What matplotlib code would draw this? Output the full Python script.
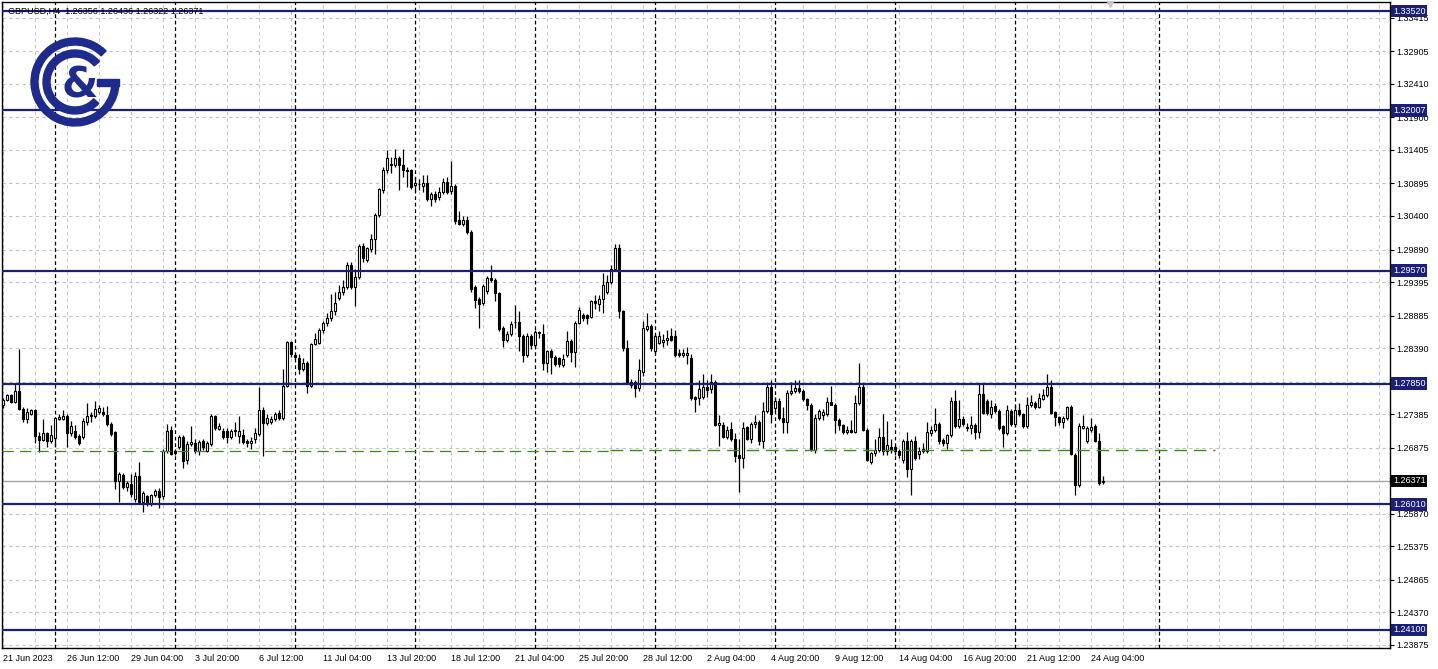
import numpy as np
import matplotlib.pyplot as plt
from matplotlib.patches import Wedge, Rectangle

# GBPUSD H4 candles, 21 Jun 2023 20:00 .. 24 Aug 2023
opens = [
    1.2753, 1.2760, 1.2767, 1.2757, 1.2774, 1.2747, 1.2731, 1.2739, 1.2745, 1.2705,
    1.2699, 1.2709, 1.2698, 1.2702, 1.2731, 1.2731, 1.2736, 1.2709, 1.2713, 1.2705,
    1.2703, 1.2727, 1.2736, 1.2736, 1.2741, 1.2742, 1.2737, 1.2723, 1.2711, 1.2637,
    1.2646, 1.2627, 1.2632, 1.2609, 1.2645, 1.2604, 1.2614, 1.2601, 1.2615, 1.2622,
    1.2614, 1.2683, 1.2714, 1.2683, 1.2688, 1.2704, 1.2669, 1.2693, 1.2695, 1.2683,
    1.2698, 1.2683, 1.2693, 1.2735, 1.2716, 1.2713, 1.2713, 1.2703, 1.2713, 1.2705,
    1.2706, 1.2698, 1.2694, 1.2701, 1.2708, 1.2745, 1.2725, 1.2727, 1.2731, 1.2740,
    1.2733, 1.2782, 1.2848, 1.2828, 1.2824, 1.2807, 1.2816, 1.2782, 1.2845, 1.2847,
    1.2867, 1.2877, 1.2885, 1.2895, 1.2915, 1.2924, 1.2932, 1.2965, 1.2932, 1.2947,
    1.2994, 1.2973, 1.2990, 1.3005, 1.3042, 1.3080, 1.3110, 1.3118, 1.3117, 1.3129,
    1.3118, 1.3110, 1.3110, 1.3087, 1.3089, 1.3085, 1.3090, 1.3066, 1.3074, 1.3069,
    1.3076, 1.3091, 1.3078, 1.3086, 1.3034, 1.3028, 1.3034, 1.3016, 1.2932, 1.2913,
    1.2907, 1.2926, 1.2946, 1.2943, 1.2923, 1.2870, 1.2851, 1.2861, 1.2878, 1.2878,
    1.2858, 1.2828, 1.2858, 1.2843, 1.2863, 1.2861, 1.2816, 1.2834, 1.2825, 1.2824,
    1.2813, 1.2829, 1.2850, 1.2833, 1.2877, 1.2890, 1.2889, 1.2887, 1.2910, 1.2906,
    1.2913, 1.2925, 1.2940, 1.2960, 1.2992, 1.2895, 1.2839, 1.2783, 1.2788, 1.2778,
    1.2803, 1.2868, 1.2872, 1.2834, 1.2847, 1.2848, 1.2851, 1.2857, 1.2857, 1.2832,
    1.2828, 1.2829, 1.2824, 1.2764, 1.2763, 1.2765, 1.2780, 1.2777, 1.2787, 1.2722,
    1.2722, 1.2704, 1.2716, 1.2700, 1.2676, 1.2672, 1.2719, 1.2701, 1.2723, 1.2726,
    1.2698, 1.2743, 1.2780, 1.2748, 1.2758, 1.2733, 1.2726, 1.2771, 1.2773, 1.2778,
    1.2773, 1.2761, 1.2752, 1.2684, 1.2733, 1.2737, 1.2739, 1.2757, 1.2753, 1.2729,
    1.2722, 1.2711, 1.2714, 1.2711, 1.2755, 1.2780, 1.2715, 1.2665, 1.2679, 1.2684,
    1.2704, 1.2683, 1.2689, 1.2689, 1.2683, 1.2669, 1.2698, 1.2655, 1.2697, 1.2678,
    1.2683, 1.2683, 1.2709, 1.2714, 1.2723, 1.2699, 1.2694, 1.2706, 1.2758, 1.2720,
    1.2731, 1.2719, 1.2718, 1.2722, 1.2711, 1.2769, 1.2759, 1.2738, 1.2751, 1.2743,
    1.2720, 1.2710, 1.2743, 1.2723, 1.2745, 1.2738, 1.2720, 1.2752, 1.2756, 1.2750,
    1.2762, 1.2768, 1.2780, 1.2741, 1.2734, 1.2726, 1.2733, 1.2749, 1.2677, 1.2630,
    1.2718, 1.2698, 1.2714, 1.2720, 1.2698, 1.26356,
]
highs = [
    1.2763, 1.2769, 1.2769, 1.2785, 1.2837, 1.2749, 1.2748, 1.2747, 1.2747, 1.2712,
    1.2731, 1.2712, 1.2722, 1.2734, 1.2738, 1.2745, 1.2738, 1.2728, 1.2722, 1.2708,
    1.2733, 1.2756, 1.2741, 1.2758, 1.2752, 1.2750, 1.2751, 1.2726, 1.2713, 1.2650,
    1.2649, 1.2636, 1.2647, 1.2651, 1.2665, 1.2622, 1.2616, 1.2617, 1.2625, 1.2626,
    1.2686, 1.2724, 1.2720, 1.2686, 1.2706, 1.2706, 1.2697, 1.2721, 1.2700, 1.2699,
    1.2700, 1.2697, 1.2738, 1.2737, 1.2725, 1.2718, 1.2717, 1.2716, 1.2726, 1.2736,
    1.2716, 1.2701, 1.2703, 1.2718, 1.2780, 1.2750, 1.2738, 1.2735, 1.2741, 1.2745,
    1.2807, 1.2849, 1.2850, 1.2831, 1.2830, 1.2824, 1.2819, 1.2847, 1.2862, 1.2870,
    1.2880, 1.2893, 1.2921, 1.2925, 1.2935, 1.2942, 1.2970, 1.2970, 1.2960, 1.2997,
    1.2999, 1.2993, 1.3013, 1.3045, 1.3083, 1.3115, 1.3140, 1.3130, 1.3142, 1.3132,
    1.3142, 1.3115, 1.3112, 1.3100, 1.3097, 1.3102, 1.3103, 1.3077, 1.3078, 1.3084,
    1.3098, 1.3099, 1.3124, 1.3089, 1.3048, 1.3040, 1.3040, 1.3018, 1.2935, 1.2916,
    1.2937, 1.2948, 1.2966, 1.2946, 1.2925, 1.2872, 1.2865, 1.2880, 1.2905, 1.2895,
    1.2860, 1.2862, 1.2860, 1.2866, 1.2865, 1.2875, 1.2836, 1.2838, 1.2828, 1.2826,
    1.2830, 1.2865, 1.2853, 1.2880, 1.2902, 1.2893, 1.2891, 1.2912, 1.2920, 1.2920,
    1.2954, 1.2950, 1.2965, 1.2997, 1.2997, 1.2897, 1.2852, 1.2792, 1.2790, 1.2822,
    1.2880, 1.2892, 1.2875, 1.2860, 1.2865, 1.2860, 1.2866, 1.2870, 1.2866, 1.2838,
    1.2838, 1.2840, 1.2830, 1.2766, 1.2790, 1.2800, 1.2790, 1.2800, 1.2790, 1.2737,
    1.2727, 1.2720, 1.2727, 1.2710, 1.2700, 1.2726, 1.2721, 1.2727, 1.2737, 1.2730,
    1.2757, 1.2787, 1.2790, 1.2765, 1.2763, 1.2750, 1.2775, 1.2787, 1.2790, 1.2790,
    1.2776, 1.2763, 1.2755, 1.2738, 1.2747, 1.2746, 1.2765, 1.2782, 1.2756, 1.2732,
    1.2724, 1.2720, 1.2730, 1.2768, 1.2817, 1.2785, 1.2717, 1.2681, 1.2700, 1.2717,
    1.2738, 1.2728, 1.2700, 1.2692, 1.2686, 1.2700, 1.2712, 1.2700, 1.2705, 1.2688,
    1.2695, 1.2726, 1.2720, 1.2748, 1.2726, 1.2702, 1.2708, 1.2765, 1.2775, 1.2760,
    1.2735, 1.2725, 1.2735, 1.2725, 1.2785, 1.2785, 1.2762, 1.2760, 1.2755, 1.2747,
    1.2722, 1.2752, 1.2746, 1.2752, 1.2755, 1.2740, 1.2765, 1.2768, 1.2759, 1.2770,
    1.2777, 1.2800, 1.2790, 1.2743, 1.2736, 1.2735, 1.2751, 1.2753, 1.2680, 1.2725,
    1.2737, 1.2720, 1.2732, 1.2724, 1.2709, 1.26436,
]
lows = [
    1.2748, 1.2758, 1.2755, 1.2755, 1.2745, 1.2726, 1.2725, 1.2737, 1.2695, 1.2681,
    1.2697, 1.2688, 1.2695, 1.2688, 1.2729, 1.2729, 1.2688, 1.2705, 1.2700, 1.2692,
    1.2700, 1.2722, 1.2726, 1.2733, 1.2738, 1.2736, 1.2720, 1.2705, 1.2624, 1.2604,
    1.2624, 1.2622, 1.2612, 1.2604, 1.2601, 1.2589, 1.2598, 1.2599, 1.2612, 1.2596,
    1.2610, 1.2680, 1.2676, 1.2677, 1.2685, 1.2657, 1.2662, 1.2690, 1.2680, 1.2676,
    1.2684, 1.2681, 1.2690, 1.2714, 1.2714, 1.2700, 1.2695, 1.2700, 1.2705, 1.2695,
    1.2693, 1.2688, 1.2686, 1.2694, 1.2705, 1.2674, 1.2722, 1.2723, 1.2728, 1.2730,
    1.2730, 1.2780, 1.2825, 1.2822, 1.2800, 1.2804, 1.2770, 1.2780, 1.2843, 1.2845,
    1.2862, 1.2872, 1.2880, 1.2890, 1.2912, 1.2920, 1.2929, 1.2929, 1.2903, 1.2944,
    1.2970, 1.2970, 1.2985, 1.2982, 1.3038, 1.3075, 1.3105, 1.3105, 1.3115, 1.3080,
    1.3100, 1.3084, 1.3081, 1.3078, 1.3080, 1.3076, 1.3063, 1.3055, 1.3062, 1.3065,
    1.3073, 1.3073, 1.3074, 1.3028, 1.3026, 1.3025, 1.3013, 1.2925, 1.2900, 1.2870,
    1.2904, 1.2922, 1.2940, 1.2910, 1.2865, 1.2840, 1.2848, 1.2858, 1.2870, 1.2835,
    1.2818, 1.2825, 1.2838, 1.2840, 1.2855, 1.2806, 1.2802, 1.2800, 1.2812, 1.2810,
    1.2810, 1.2825, 1.2818, 1.2810, 1.2875, 1.2880, 1.2875, 1.2884, 1.2899, 1.2895,
    1.2892, 1.2921, 1.2937, 1.2958, 1.2885, 1.2835, 1.2785, 1.2778, 1.2764, 1.2774,
    1.2796, 1.2865, 1.2835, 1.2830, 1.2845, 1.2840, 1.2843, 1.2850, 1.2826, 1.2826,
    1.2825, 1.2815, 1.2760, 1.2741, 1.2753, 1.2762, 1.2765, 1.2770, 1.2720, 1.2690,
    1.2702, 1.2700, 1.2698, 1.2665, 1.2620, 1.2657, 1.2699, 1.2695, 1.2718, 1.2692,
    1.2687, 1.2740, 1.2725, 1.2742, 1.2730, 1.2710, 1.2710, 1.2768, 1.2770, 1.2770,
    1.2758, 1.2745, 1.2682, 1.2680, 1.2730, 1.2730, 1.2736, 1.2752, 1.2710, 1.2715,
    1.2708, 1.2708, 1.2710, 1.2709, 1.2752, 1.2713, 1.2667, 1.2662, 1.2675, 1.2681,
    1.2677, 1.2677, 1.2680, 1.2676, 1.2672, 1.2664, 1.2643, 1.2615, 1.2668, 1.2670,
    1.2680, 1.2680, 1.2705, 1.2712, 1.2693, 1.2690, 1.2686, 1.2704, 1.2718, 1.2718,
    1.2720, 1.2713, 1.2708, 1.2700, 1.2702, 1.2738, 1.2737, 1.2732, 1.2740, 1.2715,
    1.2688, 1.2707, 1.2720, 1.2720, 1.2736, 1.2717, 1.2718, 1.2750, 1.2747, 1.2748,
    1.2760, 1.2765, 1.2738, 1.2720, 1.2722, 1.2717, 1.2730, 1.2676, 1.2615, 1.2628,
    1.2716, 1.2695, 1.2712, 1.2696, 1.2630, 1.26322,
]
closes = [
    1.2760, 1.2767, 1.2757, 1.2774, 1.2747, 1.2731, 1.2741, 1.2745, 1.2705, 1.2699,
    1.2709, 1.2698, 1.2706, 1.2733, 1.2734, 1.2736, 1.2709, 1.2721, 1.2703, 1.2695,
    1.2728, 1.2736, 1.2737, 1.2747, 1.2748, 1.2739, 1.2723, 1.2708, 1.2637, 1.2647,
    1.2627, 1.2633, 1.2617, 1.2645, 1.2604, 1.2619, 1.2601, 1.2615, 1.2622, 1.2612,
    1.2683, 1.2713, 1.2678, 1.2680, 1.2704, 1.2667, 1.2693, 1.2696, 1.2683, 1.2696,
    1.2688, 1.2694, 1.2736, 1.2717, 1.2721, 1.2703, 1.2703, 1.2713, 1.2714, 1.2713,
    1.2696, 1.2694, 1.2698, 1.2709, 1.2745, 1.2725, 1.2733, 1.2731, 1.2738, 1.2733,
    1.2781, 1.2848, 1.2830, 1.2825, 1.2807, 1.2816, 1.2782, 1.2845, 1.2853, 1.2867,
    1.2877, 1.2885, 1.2895, 1.2908, 1.2924, 1.2932, 1.2965, 1.2932, 1.2947, 1.2995,
    1.2976, 1.2991, 1.3005, 1.3042, 1.3081, 1.3110, 1.3128, 1.3118, 1.3128, 1.3117,
    1.3110, 1.3109, 1.3084, 1.3090, 1.3089, 1.3090, 1.3066, 1.3074, 1.3066, 1.3076,
    1.3091, 1.3076, 1.3085, 1.3033, 1.3028, 1.3034, 1.3016, 1.2929, 1.2912, 1.2906,
    1.2934, 1.2946, 1.2943, 1.2923, 1.2868, 1.2851, 1.2861, 1.2876, 1.2878, 1.2857,
    1.2828, 1.2858, 1.2843, 1.2863, 1.2862, 1.2816, 1.2834, 1.2826, 1.2815, 1.2815,
    1.2822, 1.2850, 1.2833, 1.2877, 1.2897, 1.2884, 1.2884, 1.2910, 1.2907, 1.2913,
    1.2935, 1.2940, 1.2960, 1.2991, 1.2895, 1.2839, 1.2788, 1.2788, 1.2778, 1.2805,
    1.2869, 1.2872, 1.2839, 1.2857, 1.2857, 1.2851, 1.2854, 1.2852, 1.2829, 1.2828,
    1.2832, 1.2832, 1.2763, 1.2761, 1.2777, 1.2780, 1.2775, 1.2787, 1.2722, 1.2725,
    1.2704, 1.2714, 1.2700, 1.2675, 1.2672, 1.2717, 1.2701, 1.2724, 1.2726, 1.2698,
    1.2743, 1.2780, 1.2738, 1.2758, 1.2733, 1.2726, 1.2771, 1.2774, 1.2778, 1.2773,
    1.2761, 1.2753, 1.2684, 1.2733, 1.2743, 1.2741, 1.2757, 1.2753, 1.2729, 1.2722,
    1.2711, 1.2714, 1.2712, 1.2755, 1.2780, 1.2715, 1.2669, 1.2679, 1.2684, 1.2704,
    1.2682, 1.2691, 1.2684, 1.2682, 1.2677, 1.2697, 1.2655, 1.2697, 1.2672, 1.2683,
    1.2685, 1.2711, 1.2714, 1.2723, 1.2697, 1.2694, 1.2706, 1.2758, 1.2721, 1.2731,
    1.2724, 1.2717, 1.2722, 1.2711, 1.2769, 1.2740, 1.2740, 1.2750, 1.2743, 1.2718,
    1.2710, 1.2745, 1.2723, 1.2745, 1.2739, 1.2720, 1.2752, 1.2757, 1.2750, 1.2763,
    1.2768, 1.2780, 1.2740, 1.2734, 1.2726, 1.2733, 1.2749, 1.2678, 1.2630, 1.2720,
    1.2720, 1.2717, 1.2719, 1.2698, 1.2633, 1.26371,
]

# horizontal support / resistance levels drawn on the chart
levels = [1.33520, 1.32007, 1.29570, 1.27850, 1.26010, 1.24100]
last_price = 1.26371
trend_level = 1.26825

# price scale grid
grid_prices = [1.33415, 1.32905, 1.32410, 1.31900, 1.31405, 1.30895, 1.30400,
               1.29890, 1.29395, 1.28885, 1.28390, 1.27880, 1.27385, 1.26875,
               1.26370, 1.25870, 1.25375, 1.24865, 1.24370, 1.23875]
hidden_labels = [1.27880, 1.26370]

# time scale labels, every 16 bars
date_labels = ["21 Jun 2023", "26 Jun 12:00", "29 Jun 04:00", "3 Jul 20:00",
               "6 Jul 12:00", "11 Jul 04:00", "13 Jul 20:00", "18 Jul 12:00",
               "21 Jul 04:00", "25 Jul 20:00", "28 Jul 12:00", "2 Aug 04:00",
               "4 Aug 20:00", "9 Aug 12:00", "14 Aug 04:00", "16 Aug 20:00",
               "21 Aug 12:00", "24 Aug 04:00"]

navy = '#1b1f78'
logo_blue = '#1f2a8f'
green = '#3c8c14'
font = ['Liberation Sans', 'DejaVu Sans']

o = np.array(opens)
h = np.array(highs)
l = np.array(lows)
c = np.array(closes)
idx = np.arange(len(o))

W, H = 1438, 669
fig = plt.figure(figsize=(W / 100, H / 100), dpi=100)
ax = fig.add_axes([2 / W, 21 / H, 1388 / W, 646 / H])
ax.set_xlim(-0.25, 346.75)
ax.set_ylim(1.23825, 1.33657)

# grid
for gp in grid_prices:
    ax.axhline(gp, color='#c4c4c4', lw=0.8, ls=(0, (3, 3)), zorder=1)
for gx in range(0, 347, 8):
    ax.axvline(gx, color='#c4c4c4', lw=0.8, ls=(0, (3, 3)), zorder=1)
# weekly period separators (last one sits in the empty right margin)
for sx in list(range(13, len(o), 30)) + [289]:
    ax.axvline(sx, color='black', lw=0.9, ls=(0, (3, 2.2)), zorder=2)

# candles
hi = np.maximum(h, np.maximum(o, c))
lo = np.minimum(l, np.minimum(o, c))
ax.vlines(idx, lo, hi, color='black', lw=0.9, zorder=3)
body_lo = np.minimum(o, c)
body_h = np.maximum(np.abs(c - o), 0.00004)
colors = np.where(c >= o, 'white', 'black')
ax.bar(idx, body_h, bottom=body_lo, width=0.55, color=colors,
       edgecolor='black', linewidth=0.8, zorder=4)

# trend line (dashed green)
ax.plot([-0.25, 151.75], [trend_level, trend_level], color=green, lw=0.9,
        ls=(0, (9, 5)), zorder=5)
ax.plot([151.75, 303], [trend_level + 0.00008, trend_level + 0.00008],
        color=green, lw=1.0, ls=(0, (9, 5)), zorder=5)

# last price line
ax.axhline(last_price, color='#a8a8a8', lw=1.0, zorder=2)

# level lines
for lv in levels:
    ax.axhline(lv, color=navy, lw=1.6, zorder=6)

# price scale
ax.yaxis.tick_right()
ax.set_yticks(grid_prices)
ax.set_yticklabels(['' if gp in hidden_labels else f'{gp:.5f}' for gp in grid_prices],
                   fontsize=6.5, family=font)
ax.tick_params(axis='y', length=3, width=0.8, pad=1.5, color='black')

ax.set_xticks(np.arange(0, 16 * len(date_labels), 16))
ax.set_xticklabels(date_labels, fontsize=6.5, family=font, ha='left')
ax.tick_params(axis='x', length=0, pad=4)

for sp in ax.spines.values():
    sp.set_color('black')
    sp.set_linewidth(1.0)

ytr = ax.get_yaxis_transform()
for lv in levels:
    ax.text(1.0022, lv, f'{lv:.5f}', transform=ytr, color='white', fontsize=6.5,
            family=font, va='center', ha='left', clip_on=False, zorder=10,
            bbox=dict(boxstyle='square,pad=0.18', fc=navy, ec='none'))
ax.text(1.0022, last_price, f'{last_price:.5f}', transform=ytr, color='white',
        fontsize=6.5, family=font, va='center', ha='left', clip_on=False, zorder=10,
        bbox=dict(boxstyle='square,pad=0.18', fc='black', ec='none'))

# header
ax.text(0.004, 0.985, 'GBPUSD,H4  %.5f %.5f %.5f %.5f' % (o[-1], h[-1], l[-1], c[-1]),
        transform=ax.transAxes, fontsize=6.5, family=font, va='center', ha='left',
        zorder=11)

# chart shift marker
ax.plot([276.75], [1.3362], marker='v', color='#c8c8c8', ms=5, zorder=7, clip_on=False)

# logo overlay in pixel coordinates
lax = fig.add_axes([0, 0, 1, 1])
lax.set_xlim(0, W)
lax.set_ylim(0, H)
lax.axis('off')
cx, cy = 75, H - 82
lax.add_patch(Wedge((cx, cy), 44, 45, 360, width=7, color=logo_blue))
lax.add_patch(Rectangle((cx + 22, cy - 3.5), 22, 7, color=logo_blue))
lax.add_patch(Wedge((cx, cy), 32, 40, 318, width=7, color=logo_blue))
lax.text(cx + 5, cy - 4, '&', fontsize=30, fontweight='bold', color=logo_blue,
         ha='center', va='center', family='DejaVu Sans')

fig.savefig('out.png', dpi=100)
